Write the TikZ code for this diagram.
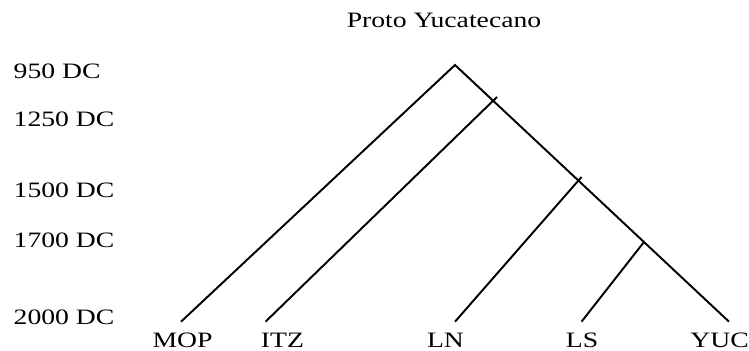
\documentclass[tikz,border=0pt]{standalone}
\usepackage{fontspec}
\setmainfont{Liberation Serif}
\usepackage{tikz}

\begin{document}
\begin{tikzpicture}[font=\fontsize{12.5}{15}\selectfont,line width=1.1pt,
  yr/.style={anchor=west,inner sep=0pt,xscale=1.26},
  lang/.style={inner sep=0pt,xscale=1.26}]
\useasboundingbox (0,0) rectangle (14.98,7.02);
\node[lang] (proto) at (8.88,6.61) {Proto Yucatecano};
% fechas
\node[yr] (t950) at (0.25,5.60) {950 DC};
\node[yr] (t1250) at (0.25,4.64) {1250 DC};
\node[yr] (t1500) at (0.25,3.21) {1500 DC};
\node[yr] (t1700) at (0.25,2.21) {1700 DC};
\node[yr] (t2000) at (0.25,0.68) {2000 DC};
% lenguas
\node[lang] (mop) at (3.65,0.21) {MOP};
\node[lang] (itz) at (5.65,0.21) {ITZ};
\node[lang] (ln) at (8.91,0.21) {LN};
\node[lang] (ls) at (11.64,0.21) {LS};
\node[lang] (yuc) at (14.39,0.21) {YUC};
% ramas
\coordinate (root) at (9.10,5.72);
\coordinate (mopend) at (3.62,0.586);
\coordinate (yucend) at (14.58,0.586);
\coordinate (itzend) at (5.31,0.586);
\coordinate (itztop) at (9.94,5.08);
\coordinate (lnend) at (9.10,0.586);
\coordinate (lntop) at (11.63,3.48);
\coordinate (lsend) at (11.63,0.586);
\coordinate (lstop) at (12.88,2.18);
\draw (mopend) -- (root) -- (yucend);
\draw (itzend) -- (itztop);
\draw (lnend) -- (lntop);
\draw (lsend) -- (lstop);
\end{tikzpicture}
\end{document}
